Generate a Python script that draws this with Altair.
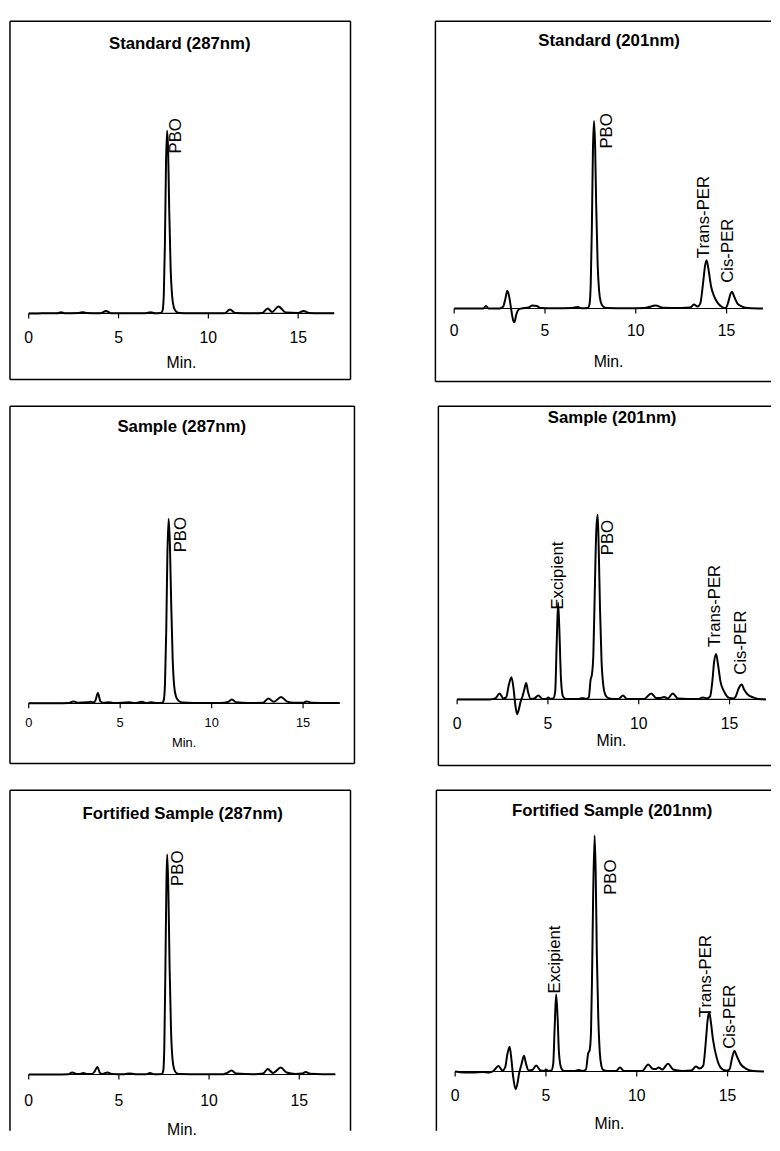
import altair as alt
import pandas as pd

FONT = "Liberation Sans"
TICKS = [0, 5, 10, 15]
TICK_LABELS = ["0", "5", "10", "15"]
AXIS_START = 0
AXIS_END = 17
X_TITLE = "Min."

TITLES = [
    "Standard (287nm)", "Standard (201nm)",
    "Sample (287nm)", "Sample (201nm)",
    "Fortified Sample (287nm)", "Fortified Sample (201nm)",
]

# (time in min, detector signal in arbitrary units)
P1_TRACE = [(0, 0), (0.5, 0), (1.0, 0.3), (1.6, 0.3), (1.8, 1.2), (2.0, 0.3), (2.8, 0.5), (3.0, 1.3),
            (3.2, 0.5), (4.0, 0.3), (4.3, 2.5), (4.6, 0.3), (5.5, 0.3), (6.5, 0.3), (6.8, 1.2), (7.0, 0.3),
            (7.35, 0.5), (7.45, 3), (7.52, 20), (7.58, 70), (7.64, 150), (7.70, 185), (7.76, 165),
            (7.82, 105), (7.90, 45), (7.98, 18), (8.08, 6), (8.2, 2), (8.4, 0.5), (9.0, 0.3), (10.0, 0.3),
            (10.9, 0.3), (11.2, 4), (11.5, 0.5), (12.5, 0.3), (13.0, 0.5), (13.3, 5), (13.55, 1.5),
            (13.9, 7), (14.3, 1), (15.0, 0.5), (15.3, 2.5), (15.6, 0.5), (16.2, 0.3), (17.0, 0.3)]

P2_TRACE = [(0, 0), (0.8, 0), (1.6, 0), (1.75, 2.5), (1.9, 0), (2.5, 0), (2.7, 2), (2.82, 10), (2.93, 18),
            (3.05, 10), (3.15, -2), (3.25, -12), (3.32, -14), (3.42, -6), (3.55, -1), (3.7, 0), (4.1, 1),
            (4.3, 3), (4.55, 2.5), (4.75, 0.5), (5.5, 0.3), (6.5, 0.5), (6.8, 1.5), (7.0, 0.3), (7.35, 0.5),
            (7.45, 4), (7.52, 25), (7.58, 80), (7.64, 160), (7.7, 190), (7.76, 165), (7.82, 105), (7.9, 45),
            (7.98, 18), (8.08, 6), (8.2, 2), (8.4, 0.5), (9.5, 0.3), (10.5, 0.5), (11.1, 3), (11.5, 0.8),
            (12.5, 0.5), (13.0, 1), (13.2, 4), (13.4, 2), (13.55, 5), (13.7, 25), (13.82, 44), (13.9, 49),
            (14.0, 40), (14.15, 22), (14.3, 13), (14.5, 6), (14.75, 1.5), (14.95, 0.3), (15.1, 7),
            (15.22, 15), (15.3, 17), (15.42, 12), (15.6, 5), (15.85, 2), (16.2, 0.5), (17, 0)]

P3_TRACE = [(0, 0), (1.5, 0), (2.2, 0.3), (2.45, 2), (2.7, 0.5), (3.2, 1), (3.4, 1.5), (3.55, 1), (3.65, 3),
            (3.78, 10.5), (3.92, 2), (4.1, 0.5), (4.4, 1), (4.7, 0.3), (5.5, 1), (5.8, 0.3), (6.2, 1.5),
            (6.4, 0.3), (6.7, 1), (7.0, 0.3), (7.3, 0.5), (7.38, 3), (7.45, 20), (7.52, 75), (7.58, 150),
            (7.65, 187), (7.72, 160), (7.79, 100), (7.87, 45), (7.95, 18), (8.05, 7), (8.2, 2.5), (8.4, 0.8),
            (9, 0.3), (10.5, 0.3), (10.9, 1.5), (11.1, 4), (11.35, 1), (12, 0.3), (12.8, 0.5), (13.1, 5),
            (13.4, 1.5), (13.8, 6.5), (14.1, 2), (14.5, 0.5), (15.0, 0.5), (15.2, 2), (15.5, 0.5),
            (16.5, 0.3), (17, 0.3)]

P4_TRACE = [(0, 0), (1.0, 0), (1.8, 0), (2.1, 1), (2.34, 6), (2.55, 1), (2.7, 2), (2.85, 15), (2.99, 22.5),
            (3.1, 12), (3.2, -5), (3.3, -15), (3.4, -10), (3.5, -2), (3.6, 3), (3.7, 10), (3.8, 16.5),
            (3.9, 8), (4.05, 0.5), (4.25, 1), (4.47, 4), (4.7, 0.5), (4.9, 0.5), (5.02, 2), (5.15, 0.5),
            (5.3, 1), (5.4, 8), (5.48, 55), (5.56, 98), (5.63, 70), (5.72, 20), (5.83, 3), (6.0, 0.5),
            (6.7, 0.5), (6.9, 1.5), (7.1, 0.5), (7.25, 2), (7.35, 20), (7.42, 25), (7.5, 45), (7.58, 110),
            (7.66, 170), (7.74, 187), (7.8, 150), (7.87, 90), (7.95, 40), (8.05, 14), (8.15, 5), (8.3, 1.5),
            (8.6, 0.5), (8.9, 0.5), (9.13, 4), (9.35, 0.5), (10.3, 0.5), (10.69, 6), (10.95, 1.5),
            (11.2, 1.5), (11.4, 2.5), (11.6, 1), (11.87, 6), (12.15, 1), (12.7, 0.5), (13.3, 0.5),
            (13.53, 2), (13.75, 1), (13.93, 3), (14.05, 18), (14.15, 38), (14.26, 46), (14.36, 36),
            (14.5, 18), (14.7, 8), (14.98, 1.5), (15.2, 1), (15.34, 3), (15.5, 11), (15.67, 15), (15.8, 10),
            (16.0, 5), (16.3, 2), (16.6, 0.5), (17, 0)]

P5_TRACE = [(0, 0), (1.5, 0), (2.2, 0.3), (2.41, 2), (2.65, 0.5), (2.85, 0.5), (3.03, 1.5), (3.2, 0.5),
            (3.5, 0.5), (3.65, 3), (3.81, 7.7), (3.95, 1.5), (4.1, 0.5), (4.36, 2), (4.6, 0.5), (5.3, 0.3),
            (5.58, 1), (5.9, 0.3), (6.5, 0.3), (6.73, 1.5), (6.95, 0.3), (7.38, 0.5), (7.46, 4), (7.52, 30),
            (7.58, 110), (7.64, 200), (7.68, 223), (7.74, 190), (7.81, 110), (7.89, 45), (7.97, 16),
            (8.07, 5), (8.19, 1.5), (8.4, 0.5), (9.5, 0.3), (10.8, 0.3), (11.0, 1.5), (11.24, 4), (11.5, 1),
            (12.5, 0.3), (13.0, 1), (13.25, 5.5), (13.55, 1.5), (13.98, 7), (14.3, 2), (14.8, 0.5),
            (15.15, 1), (15.36, 2.5), (15.6, 0.8), (16.3, 0.3), (17, 0.3)]

P6_TRACE = [(0, 0), (0.5, -1), (1.0, -1), (1.5, -0.5), (1.9, -1), (2.1, 0.5), (2.39, 5.7), (2.6, 1), (2.75, 4),
            (2.88, 18), (3.0, 25), (3.1, 12), (3.2, -6), (3.33, -18), (3.43, -12), (3.52, -2), (3.62, 5),
            (3.7, 11), (3.79, 16), (3.9, 8), (4.05, 1), (4.25, 1.5), (4.46, 6), (4.7, 1), (4.9, 0.5),
            (5.0, 2), (5.12, 0.5), (5.3, 1), (5.4, 8), (5.48, 45), (5.56, 78), (5.64, 55), (5.72, 18),
            (5.85, 3), (6.0, 0.5), (6.6, 0.5), (6.8, 1.5), (7.0, 0.5), (7.2, 2), (7.32, 18), (7.41, 22),
            (7.48, 40), (7.54, 100), (7.6, 180), (7.68, 239), (7.74, 200), (7.8, 120), (7.88, 55),
            (7.97, 18), (8.05, 6), (8.13, 2), (8.4, 0.5), (8.85, 0.5), (9.08, 4), (9.3, 0.5), (10.3, 0.5),
            (10.63, 7), (10.9, 2.5), (11.05, 2.5), (11.21, 4), (11.4, 2), (11.72, 8), (12.0, 2), (12.5, 0.5),
            (13.0, 1), (13.26, 5), (13.45, 3), (13.66, 6), (13.8, 30), (13.9, 52), (13.99, 60), (14.08, 50),
            (14.2, 32), (14.4, 14), (14.66, 3), (14.9, 1), (15.1, 2), (15.25, 14), (15.38, 21), (15.5, 16),
            (15.7, 8), (16.0, 3), (16.4, 0.5), (17, 0)]

# peak labels: (name, time, signal where the label starts)
P1_LABELS = [("PBO", 8.21, 162)]
P2_LABELS = [("PBO", 8.42, 162), ("Trans-PER", 13.75, 51), ("Cis-PER", 15.1, 26)]
P3_LABELS = [("PBO", 8.31, 153)]
P4_LABELS = [("Excipient", 5.57, 91), ("PBO", 8.29, 146), ("Trans-PER", 14.21, 53), ("Cis-PER", 15.63, 25)]
P5_LABELS = [("PBO", 8.26, 191)]
P6_LABELS = [("Excipient", 5.52, 79), ("PBO", 8.56, 179), ("Trans-PER", 13.83, 55), ("Cis-PER", 15.16, 23)]

FRAME = dict(color="black", strokeWidth=1.5)


def panel(title, trace, labels, width, height, base, ppu, title_x, title_y,
          tick_fs, tick_y, min_y, sides):
    df = pd.DataFrame(trace, columns=["t", "s"])
    lab = pd.DataFrame(labels, columns=["name", "t", "s"])
    ticks = pd.DataFrame({"t": TICKS, "label": TICK_LABELS})
    one = pd.DataFrame({"k": [0]})
    x_left = -19.0 / ppu
    xs = alt.Scale(domain=[x_left, x_left + width / ppu], nice=False, zero=False)
    ys = alt.Scale(domain=[-(height - base), base], nice=False, zero=False)

    def X(f):
        return alt.X(f, scale=xs, axis=None)

    def Y(f):
        return alt.Y(f, scale=ys, axis=None)

    axis_df = pd.DataFrame({"t0": [AXIS_START], "t1": [AXIS_END], "y": [0]})
    axis_line = alt.Chart(axis_df).mark_rule(color="black", strokeWidth=1.2).encode(
        x=X("t0:Q"), x2="t1:Q", y=Y("y:Q"))
    tick_marks = alt.Chart(ticks).mark_rule(color="black", strokeWidth=1.2).encode(
        x=X("t:Q"), y=alt.Y(datum=0, scale=ys, axis=None), y2=alt.datum(-5))
    tick_text = alt.Chart(ticks).mark_text(
        font=FONT, fontSize=tick_fs, color="black", baseline="middle", align="center"
    ).encode(x=X("t:Q"), y=alt.Y(datum=-tick_y, scale=ys, axis=None), text="label:N")
    x_title = alt.Chart(one).mark_text(
        font=FONT, fontSize=tick_fs, color="black", baseline="middle", align="center"
    ).encode(x=alt.X(datum=(AXIS_START + AXIS_END) / 2, scale=xs, axis=None),
             y=alt.Y(datum=-min_y, scale=ys, axis=None), text=alt.value(X_TITLE))
    line = alt.Chart(df).mark_line(color="black", strokeWidth=2, interpolate="monotone").encode(
        x=X("t:Q"), y=Y("s:Q"), order="t:Q")
    text = alt.Chart(lab).mark_text(
        angle=270, align="left", baseline="middle", font=FONT, fontSize=17, color="black"
    ).encode(x=X("t:Q"), y=Y("s:Q"), text="name:N")
    ttl = alt.Chart(one).mark_text(
        font=FONT, fontSize=17, fontWeight="bold", baseline="middle", align="center", color="black"
    ).encode(x=alt.value(title_x), y=alt.value(title_y), text=alt.value(title))

    layers = [axis_line, tick_marks, tick_text, x_title, line, text, ttl]
    if "l" in sides:
        layers.append(alt.Chart(one).mark_rule(**FRAME).encode(
            x=alt.value(0), y=alt.value(0), y2=alt.value(height)))
    if "r" in sides:
        layers.append(alt.Chart(one).mark_rule(**FRAME).encode(
            x=alt.value(width), y=alt.value(0), y2=alt.value(height)))
    if "t" in sides:
        layers.append(alt.Chart(one).mark_rule(**FRAME).encode(
            y=alt.value(0), x=alt.value(0), x2=alt.value(width)))
    if "b" in sides:
        layers.append(alt.Chart(one).mark_rule(**FRAME).encode(
            y=alt.value(height), x=alt.value(0), x2=alt.value(width)))
    return alt.layer(*layers).properties(
        width=width, height=height,
        view=alt.ViewBackground(strokeOpacity=0),
    )


p1 = panel(TITLES[0], P1_TRACE, P1_LABELS, 345, 363, 296, 18.2, 172, 23, 16, 25, 50, "lrtb")
p2 = panel(TITLES[1], P2_TRACE, P2_LABELS, 340, 365, 291, 18.4, 176, 20, 16, 23, 54, "ltb")
p3 = panel(TITLES[2], P3_TRACE, P3_LABELS, 349, 362, 301, 18.53, 174, 21, 13, 20, 40, "lrtb")
p4 = panel(TITLES[3], P4_TRACE, P4_LABELS, 337, 364, 297, 18.4, 176, 12, 16, 25, 42, "ltb")
p5 = panel(TITLES[4], P5_TRACE, P5_LABELS, 345, 345, 288, 18.27, 175, 24, 16, 27, 56, "lrt")
p6 = panel(TITLES[5], P6_TRACE, P6_LABELS, 339, 345, 285, 18.4, 178, 21, 16, 25, 53, "lt")

row1 = alt.hconcat(p1, p2, spacing=84).resolve_scale(x="independent", y="independent")
row2 = alt.hconcat(p3, p4, spacing=83).resolve_scale(x="independent", y="independent")
row3 = alt.hconcat(p5, p6, spacing=85).resolve_scale(x="independent", y="independent")

chart = alt.vconcat(row1, row2, row3, spacing=23).resolve_scale(
    x="independent", y="independent"
).properties(
    padding={"left": 1, "top": 5, "right": 0, "bottom": 0},
    background="white",
)

chart.save("out.html", embed_options={"renderer": "svg", "actions": False})
